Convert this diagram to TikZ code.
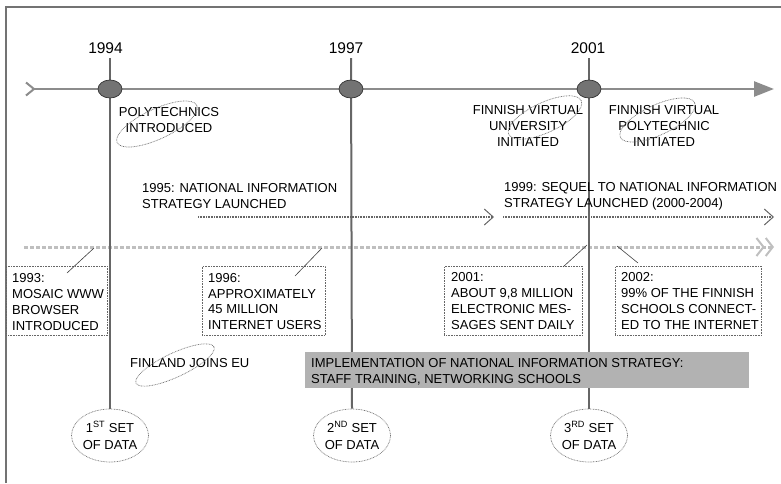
\documentclass[tikz,border=0pt]{standalone}
\usepackage{fontspec}
\setmainfont{Liberation Sans}
\usetikzlibrary{arrows.meta,shapes.geometric,calc}
\begin{document}
\begin{tikzpicture}[x=1pt,y=-1pt,
 txt/.style={inner sep=0pt, font=\fontsize{13}{15.8}\selectfont},
 yr/.style={inner sep=0pt, font=\fontsize{15.5}{18}\selectfont},
 frame/.style={draw=black!55, line width=1.3pt},
 axis/.style={draw=black!45, line width=2.6pt},
 vline/.style={draw=black!60, line width=2pt},
 dot/.style={ellipse, draw=black!80, fill=black!55, line width=0.7pt, minimum width=24pt, minimum height=18pt, inner sep=0pt},
 strat/.style={draw=black!60, line width=1.4pt, dash pattern=on 1pt off 0.6pt, -{Straight Barb[length=9pt,width=16pt,line width=1pt]}},
 xline/.style={draw=gray!50, line width=3pt, dash pattern=on 3.5pt off 2.5pt, -{Straight Barb[length=7pt,width=18pt,line width=2pt] Straight Barb[length=7pt,width=18pt,line width=2pt]}},
 infobox/.style={draw=black!60, line width=0.8pt, dash pattern=on 0.8pt off 0.8pt, inner sep=0pt, anchor=north west},
 conn/.style={draw=black!75, line width=0.6pt},
 oval/.style={ellipse, draw=black!55, line width=0.7pt, dash pattern=on 0.8pt off 0.8pt, inner sep=0pt, rotate=25},
 setoval/.style={ellipse, draw=black!55, line width=0.7pt, dash pattern=on 0.8pt off 0.8pt, fill=white, minimum width=77pt, minimum height=53pt, inner sep=0pt, align=center, font=\fontsize{13}{17}\selectfont},
]
\useasboundingbox (0,0) rectangle (781,483);
% frame
\draw[frame] (6,483) -- (6,7) -- (781,7);

% years
\node[yr] (y94) at (105.5,48.5) {1994};
\node[yr] (y97) at (346,48.5) {1997};
\node[yr] (y01) at (588,48.5) {2001};
\coordinate (t94) at (110,58);
\coordinate (t97) at (351,58);
\coordinate (t01) at (589,58);

% set of data ovals
\node[setoval] (s1) at (110,435.5) {1\textsuperscript{ST} SET\\OF DATA};
\node[setoval] (s2) at (352,435.5) {2\textsuperscript{ND} SET\\OF DATA};
\node[setoval] (s3) at (589,435.5) {3\textsuperscript{RD} SET\\OF DATA};

% main axis
\coordinate (ax0) at (25,89);
\coordinate (ax1) at (774,89);
\draw[axis, {Straight Barb[reversed,length=8pt,width=13pt,line width=2pt]}-{Triangle[length=20pt,width=15pt]}] (ax0) -- (ax1);

% x line
\coordinate (xl0) at (24,247);
\coordinate (xl1) at (774,247);
\draw[xline] (xl0) -- (xl1);

% strategy arrows
\coordinate (sa0) at (198,217);
\coordinate (sa1) at (494,217);
\coordinate (sb0) at (503,217);
\coordinate (sb1) at (774,217);
\draw[strat] (sa0) -- (sa1);
\draw[strat] (sb0) -- (sb1);

% vertical lines
\draw[vline] (t94) -- (s1.north);
\draw[vline] (t97) -- (s2.north);
\draw[vline] (t01) -- (s3.north);

% dots
\node[dot] (d94) at (110,89) {};
\node[dot] (d97) at (351,89) {};
\node[dot] (d01) at (589,89) {};

% labels under axis
\node[txt, anchor=north, align=center] (poly) at (169,107.4) {POLYTECHNICS\\INTRODUCED};
\node[txt, anchor=north, align=center] (fvu) at (528,105.4) {FINNISH VIRTUAL\\UNIVERSITY\\INITIATED};
\node[txt, anchor=north, align=center] (fvp) at (664,105.4) {FINNISH VIRTUAL\\POLYTECHNIC\\INITIATED};
\node[oval, minimum width=88pt, minimum height=30pt] (opoly) at (157,124) {};
\node[oval, minimum width=80pt, minimum height=30pt] (ofvu) at (545,117.5) {};
\node[oval, minimum width=82pt, minimum height=30pt] (ofvp) at (657.5,120) {};

% strategy texts
\node[txt, anchor=north west, align=left] (s95) at (142,183.4) {1995: NATIONAL INFORMATION\\STRATEGY LAUNCHED};
\node[txt, anchor=north west, align=left] (s99) at (504,182) {1999: SEQUEL TO NATIONAL INFORMATION\\STRATEGY LAUNCHED (2000-2004)};

% info boxes
\node[infobox, minimum width=101pt, minimum height=69pt] (b93) at (6,266) {};
\node[infobox, minimum width=123pt, minimum height=69pt] (b96) at (202,266) {};
\node[infobox, minimum width=138pt, minimum height=69pt] (b01) at (444,266) {};
\node[infobox, minimum width=146pt, minimum height=69pt] (b02) at (615,266) {};
\node[txt, anchor=north west, align=left] (t93) at (12,273.4) {1993:\\MOSAIC WWW\\BROWSER\\INTRODUCED};
\node[txt, anchor=north west, align=left] (t96) at (208,273) {1996:\\APPROXIMATELY\\45 MILLION\\INTERNET USERS};
\node[txt, anchor=north west, align=left] (t01b) at (451,272.4) {2001:\\ABOUT 9,8 MILLION\\ELECTRONIC MES-\\SAGES SENT DAILY};
\node[txt, anchor=north west, align=left] (t02b) at (621,272.4) {2002:\\99\% OF THE FINNISH\\SCHOOLS CONNECT-\\ED TO THE INTERNET};

% connectors
\coordinate (c93) at (94,248);
\coordinate (c96) at (322,248);
\coordinate (c01) at (587,245);
\coordinate (c02) at (617,246);
\draw[conn] ($(b93.north west)+(61,7)$) -- (c93);
\draw[conn] ($(b96.north west)+(93,10)$) -- (c96);
\draw[conn] ($(b01.north west)+(119,1)$) -- (c01);
\draw[conn] ($(b02.north west)+(23,-3)$) -- (c02);

% Finland joins EU
\node[txt, anchor=north west] (eu) at (130,358.4) {FINLAND JOINS EU};
\node[oval, minimum width=86pt, minimum height=24pt] (oeu) at (175,365) {};

% implementation box
\node[fill=black!30, inner sep=0pt, minimum width=444pt, minimum height=36pt, anchor=north west] (impbox) at (305,352) {};
\node[txt, anchor=north west, align=left] (imp) at (311,358.4) {IMPLEMENTATION OF NATIONAL INFORMATION STRATEGY:\\STAFF TRAINING, NETWORKING SCHOOLS};
\end{tikzpicture}
\end{document}
